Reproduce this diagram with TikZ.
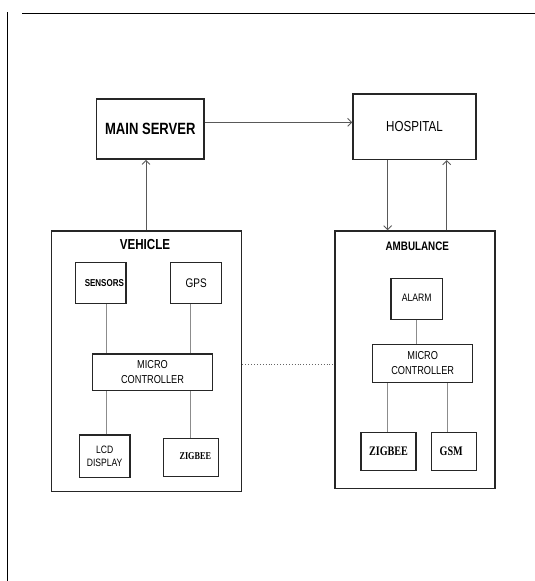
\documentclass[tikz,border=0pt]{standalone}
\usepackage{fontspec}
\usetikzlibrary{arrows.meta}
\newfontfamily\nsans[FakeStretch=0.8]{Liberation Sans}
\newfontfamily\nserif[FakeStretch=0.78]{Liberation Serif}
\begin{document}
\begin{tikzpicture}[x=1pt,y=-1pt,
  box/.style={draw=black!85,line width=1.5pt,inner sep=0pt,align=center},
  arr/.style={draw=black!65,line width=0.9pt,-{Straight Barb[length=4pt,width=8pt,line width=0.9pt]}},
  link/.style={draw=black!45,line width=0.8pt},
  frame/.style={draw=black,line width=1pt}]
\useasboundingbox (0,0) rectangle (535,581);
% page frame lines
\draw[frame] (22,13) -- (535,13);
\draw[frame] (7,12) -- (7,581);

% top level
\node[box,minimum width=107.3pt,minimum height=60pt,font=\nsans\bfseries\fontsize{16.3}{18}\selectfont] (server) at (150.3,129)
  {MAIN SERVER};
\node[box,minimum width=123pt,minimum height=65.3pt,font=\nsans\fontsize{14.5}{17}\selectfont] (hospital) at (414.5,126.7)
  {HOSPITAL};

% vehicle
\node[box,minimum width=190pt,minimum height=260.7pt] (vehicle) at (146.7,361.3) {};
\node[inner sep=0pt,font=\nsans\bfseries\fontsize{14.5}{16}\selectfont] (vtitle) at (145,244.5) {VEHICLE};
\node[box,minimum width=50.3pt,minimum height=41pt,font=\nsans\bfseries\fontsize{10}{12}\selectfont] (sensors) at (100.85,282.8)
  {\hspace*{7pt}SENSORS};
\node[box,minimum width=51pt,minimum height=41pt,font=\nsans\fontsize{12.5}{14}\selectfont] (gps) at (196.2,282.8)
  {\raisebox{-2pt}{GPS}};
\node[box,minimum width=120.4pt,minimum height=36.7pt,font=\nsans\fontsize{11.5}{15}\selectfont] (vmicro) at (152.5,372.35)
  {MICRO\\CONTROLLER};
\node[box,minimum width=50.7pt,minimum height=42.3pt,font=\nsans\fontsize{10.7}{12.7}\selectfont] (lcd) at (104.65,456.15)
  {LCD\\DISPLAY};
\node[box,minimum width=55pt,minimum height=38.4pt,font=\nserif\bfseries\fontsize{10.5}{12}\selectfont] (vzig) at (190.8,457.5)
  {\hspace*{9pt}\raisebox{3pt}{ZIGBEE}};

% ambulance
\node[box,minimum width=160pt,minimum height=257.3pt] (amb) at (415,359.65) {};
\node[inner sep=0pt,font=\nsans\bfseries\fontsize{12.3}{14}\selectfont] (atitle) at (417.3,246) {AMBULANCE};
\node[box,minimum width=51.3pt,minimum height=41pt,font=\nsans\fontsize{10.8}{12}\selectfont] (alarm) at (416.65,298.8)
  {\raisebox{3pt}{ALARM}};
\node[box,minimum width=100pt,minimum height=38.4pt,font=\nsans\fontsize{11.5}{15}\selectfont] (amicro) at (422.7,363.5)
  {MICRO\\CONTROLLER};
\node[box,minimum width=55pt,minimum height=38.4pt,font=\nserif\bfseries\fontsize{13}{14}\selectfont] (azig) at (388.5,451.5)
  {ZIGBEE};
\node[box,minimum width=45pt,minimum height=38.4pt,font=\nserif\bfseries\fontsize{13}{14}\selectfont] (gsm) at (454.2,451.5)
  {\hspace*{-6pt}GSM};

% top connectors
\draw[arr] ([yshift=6.7pt]server.east) coordinate (a) -- (a -| hospital.west);
\draw[arr] ([xshift=-0.7pt]vehicle.north) coordinate (v) -- (v |- server.south);
\draw[arr] ([xshift=-26.8pt]hospital.south) coordinate (b) -- (b |- amb.north);
\draw[arr] ([xshift=32.2pt]hospital.south) coordinate (c) (c |- amb.north) -- (c);

% vehicle links
\draw[link] ([xshift=5.85pt]sensors.south) coordinate (s) -- (s |- vmicro.north);
\draw[link] ([xshift=-5.5pt]gps.south) coordinate (g) -- (g |- vmicro.north);
\draw[link] ([xshift=2pt]lcd.north) coordinate (l) -- (l |- vmicro.south);
\draw[link] (vzig.north) -- (vzig.north |- vmicro.south);

% ambulance links
\draw[link] (alarm.south) coordinate (al) -- (al |- amicro.north);
\draw[link] ([xshift=-1.2pt]azig.north) coordinate (z) -- (z |- amicro.south);
\draw[link] ([xshift=-6.5pt]gsm.north) coordinate (gg) -- (gg |- amicro.south);

% dotted link between vehicle and ambulance
\draw[black!60,line width=0.9pt,dotted] ([yshift=-2.7pt]vehicle.east) coordinate (d) -- (d -| amb.west);
\end{tikzpicture}
\end{document}
